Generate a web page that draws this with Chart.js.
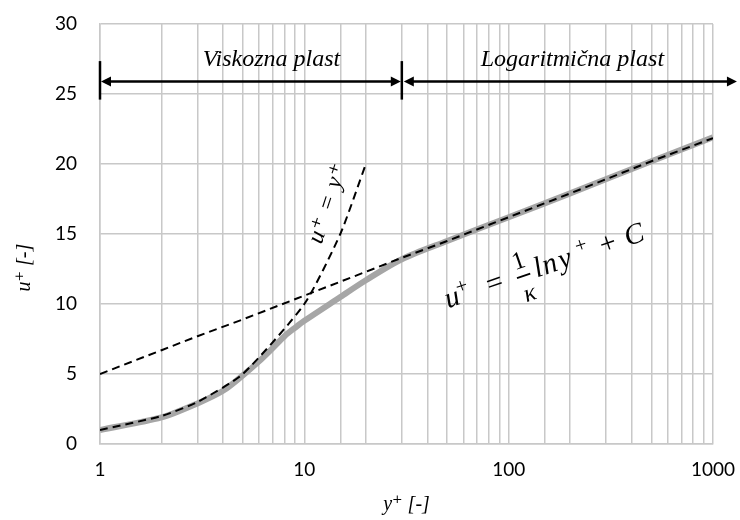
<!DOCTYPE html>
<html>
<head>
<meta charset="utf-8">
<script src="https://cdn.jsdelivr.net/npm/chart.js@4"></script>
<style>
  body { margin: 0; background: #fff; }
</style>
</head>
<body>
<canvas id="wallChart" width="740" height="520"></canvas>
<script>
// hitrostni profil ob steni (y+, u+)
const profileY = [1, 2, 3, 4, 5, 6, 7, 8, 9, 10, 15, 20, 30, 50, 100, 200, 500, 1000];
const profileU = [1.0, 1.9, 2.9, 3.8, 4.9, 5.9, 6.85, 7.7, 8.3, 8.8, 10.5, 11.7, 13.2, 14.5, 16.2, 17.9, 20.2, 21.9];

// viskozna plast u+ = y+
const linearY = [1, 2, 3, 5, 10, 15, 20];
const linearU = [1, 2, 3, 5, 10, 15, 20];

// logaritmicna plast
const logY = [1, 2, 3, 5, 10, 20, 30, 50, 100, 200, 500, 1000];
const logU = [5.0, 6.7, 7.7, 8.9, 10.6, 12.3, 13.3, 14.5, 16.2, 17.9, 20.2, 21.85];

const xTickLabels = [1, 10, 100, 1000];

function toPoints(xs, ys) {
    return xs.map((v, i) => ({ x: v, y: ys[i] }));
}

const serif = '"Liberation Serif", "DejaVu Serif", serif';

// puscice, oznake plasti in enacbe
const annotations = {
    id: 'annotations',
    afterDatasetsDraw(chart) {
        const ctx = chart.ctx;
        const x = chart.scales.x;
        const y = chart.scales.y;
        ctx.save();
        ctx.strokeStyle = '#000';
        ctx.fillStyle = '#000';

        const ay = y.getPixelForValue(25.9);
        const x1 = x.getPixelForValue(1);
        const x30 = x.getPixelForValue(30);
        const xEnd = x.getPixelForValue(1310);

        // navpicne crtice
        ctx.lineWidth = 2.5;
        [x1, x30].forEach(px => {
            ctx.beginPath();
            ctx.moveTo(px, y.getPixelForValue(27.35));
            ctx.lineTo(px, y.getPixelForValue(24.6));
            ctx.stroke();
        });

        function arrow(a, b) {
            ctx.lineWidth = 2.5;
            ctx.beginPath();
            ctx.moveTo(a + 4, ay);
            ctx.lineTo(b - 4, ay);
            ctx.stroke();
            ctx.beginPath();
            ctx.moveTo(a, ay);
            ctx.lineTo(a + 10, ay - 5);
            ctx.lineTo(a + 10, ay + 5);
            ctx.closePath();
            ctx.fill();
            ctx.beginPath();
            ctx.moveTo(b, ay);
            ctx.lineTo(b - 10, ay - 5);
            ctx.lineTo(b - 10, ay + 5);
            ctx.closePath();
            ctx.fill();
        }
        arrow(x1 + 1, x30 - 1);
        arrow(x30 + 2, xEnd);

        ctx.font = 'italic 24px ' + serif;
        ctx.textAlign = 'center';
        ctx.textBaseline = 'alphabetic';
        const ty = y.getPixelForValue(27.0);
        ctx.fillText('Viskozna plast', x.getPixelForValue(6.9), ty);
        ctx.fillText('Logaritmična plast', x.getPixelForValue(205), ty);

        // u+ = y+
        ctx.save();
        ctx.translate(x.getPixelForValue(13.1), y.getPixelForValue(17.2));
        ctx.rotate(-72 * Math.PI / 180);
        ctx.font = 'italic 24px ' + serif;
        ctx.textBaseline = 'middle';
        ctx.letterSpacing = '1px';
        ctx.fillText('u\u207A = y\u207A', 0, 0);
        ctx.letterSpacing = '0px';
        ctx.restore();

        // u+ = 1/k ln y+ + C
        ctx.save();
        ctx.translate(x.getPixelForValue(50.5), y.getPixelForValue(9.7));
        ctx.rotate(-19 * Math.PI / 180);
        ctx.textAlign = 'left';
        ctx.textBaseline = 'alphabetic';
        const it = 'italic 29px ' + serif;
        const up = '29px ' + serif;
        const sup = '21px ' + serif;
        function glyph(text, font, px, dy) {
            ctx.font = font;
            ctx.fillText(text, px, dy);
        }
        glyph('u', it, 0, 0);
        glyph('+', sup, 14, -10);
        glyph('=', up, 44, 0);
        ctx.textAlign = 'center';
        glyph('1', '25px ' + serif, 82, -14);
        glyph('\u03BA', 'italic 25px ' + serif, 82, 20);
        ctx.lineWidth = 1.8;
        ctx.beginPath();
        ctx.moveTo(75, -6);
        ctx.lineTo(89, -6);
        ctx.stroke();
        ctx.textAlign = 'left';
        glyph('l', it, 94, 0);
        glyph('n', it, 103, 0);
        glyph('y', it, 120, 0);
        glyph('+', sup, 140, -10);
        glyph('+', up, 164, 0);
        glyph('C', it, 190, 0);
        ctx.restore();

        // naslov osi y
        ctx.save();
        ctx.translate(25, y.getPixelForValue(12.6));
        ctx.rotate(-Math.PI / 2);
        ctx.font = 'italic 20px ' + serif;
        ctx.textAlign = 'center';
        ctx.textBaseline = 'middle';
        ctx.fillText('u\u207A [-]', 0, 0);
        ctx.restore();

        ctx.restore();
    }
};

const ctxWall = document.getElementById('wallChart').getContext('2d');
const wallChart = new Chart(ctxWall, {
    type: 'line',
    data: {
        datasets: [{
            label: 'profil',
            data: toPoints(profileY, profileU),
            borderColor: '#a6a6a6',
            borderWidth: 6,
            pointRadius: 0,
            tension: 0.3,
            fill: false,
            order: 3
        }, {
            label: 'u+ = y+',
            data: toPoints(linearY, linearU),
            borderColor: '#000',
            borderWidth: 2,
            borderDash: [8, 5],
            pointRadius: 0,
            tension: 0.2,
            fill: false,
            order: 2
        }, {
            label: 'log',
            data: toPoints(logY, logU),
            borderColor: '#000',
            borderWidth: 2,
            borderDash: [8, 5],
            pointRadius: 0,
            tension: 0,
            fill: false,
            order: 1
        }]
    },
    options: {
        responsive: false,
        animation: false,
        devicePixelRatio: 1,
        layout: { padding: { top: 24, right: 27, left: 0, bottom: 0 } },
        plugins: {
            legend: { display: false },
            tooltip: { enabled: false }
        },
        scales: {
            x: {
                type: 'logarithmic',
                min: 1,
                max: 1000,
                afterFit: s => {
                    s.height = 76;
                    s.paddingLeft = 0;
                    s.paddingRight = 0;
                },
                grid: { color: '#c8c8c8', lineWidth: 1.5, drawTicks: false },
                border: { color: '#c8c8c8', width: 1.5 },
                ticks: {
                    autoSkip: false,
                    maxRotation: 0,
                    padding: 14,
                    color: '#000',
                    font: { family: 'Lato', size: 19 },
                    callback: v => xTickLabels.includes(v) ? String(v) : ''
                },
                title: {
                    display: true,
                    text: 'y\u207A [-]',
                    color: '#000',
                    font: { family: serif, size: 20, style: 'italic' },
                    padding: { top: 0, bottom: 3 }
                }
            },
            y: {
                min: 0,
                max: 30,
                afterFit: s => {
                    s.width = 100;
                    s.paddingTop = 0;
                    s.paddingBottom = 0;
                },
                grid: { color: '#c8c8c8', lineWidth: 1.5, drawTicks: false },
                border: { color: '#c8c8c8', width: 1.5 },
                ticks: {
                    stepSize: 5,
                    padding: 23,
                    color: '#000',
                    font: { family: 'Lato', size: 19 }
                }
            }
        }
    },
    plugins: [annotations]
});
</script>
</body>
</html>
